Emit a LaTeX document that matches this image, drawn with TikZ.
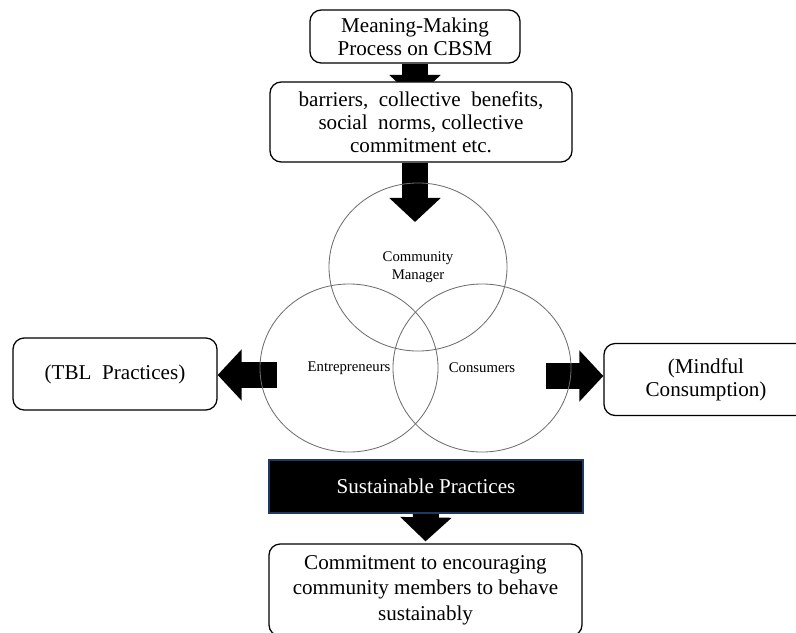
\documentclass[tikz,border=0pt]{standalone}
\usepackage{fontspec}
\setmainfont{Liberation Serif}
\usepackage{xcolor}
\usetikzlibrary{arrows.meta,positioning,shapes.geometric}
\definecolor{ringc}{HTML}{6E6E6E}
\definecolor{navyc}{HTML}{1F3864}
\pgfdeclarelayer{background}
\pgfsetlayers{background,main}
\tikzset{
  defaultnode/.style={rectangle, rounded corners=8pt, draw=black, fill=white,
    line width=0.9pt, font=\fontsize{15}{16.5}\selectfont, align=center, inner sep=0pt},
  darknode/.style={defaultnode, rounded corners=0pt, draw=navyc, fill=black, text=white},
  ringnode/.style={ellipse, draw=ringc, line width=0.6pt, minimum width=4.45cm,
    minimum height=4.2cm, inner sep=0pt, font=\fontsize{10.5}{12.8}\selectfont, align=center},
  blockedge/.style={-{Triangle[length=0.6cm, width=1.25cm]}, draw=black, line width=0.65cm},
}

\begin{document}
\begin{tikzpicture}[x=0.025cm, y=-0.025cm]
  \useasboundingbox (0,0) rectangle (796,632);
  \clip (0,0) rectangle (796,632);
  \node[defaultnode, minimum width=5.25cm, minimum height=1.325cm] (mm) at (415,36.5) {Meaning-Making\\Process on CBSM};
  \node[defaultnode, minimum width=7.55cm, minimum height=2cm] (barr) at (421,122) {barriers,\ \ collective\ \ benefits,\\social\ \ norms, collective\\commitment etc.};
  \node[ringnode] (cm) at (418,267) {Community\\Manager};
  \node[ringnode] (ent) at (349,368) {Entrepreneurs};
  \node[ringnode] (con) at (482,368) {Consumers};
  \node[defaultnode, minimum width=5.1cm, minimum height=1.8cm] (tbl) at (115,374) {(TBL\ \ Practices)};
  \node[defaultnode, minimum width=5.1cm, minimum height=1.8cm] (mindful) at (706,379.5) {(Mindful\\Consumption)};
  \node[darknode, minimum width=7.85cm, minimum height=1.325cm] (sust) at (426,486.5) {Sustainable Practices};
  \node[defaultnode, minimum width=7.825cm, minimum height=2.3cm, font=\fontsize{15}{18}\selectfont] (commit) at (425.5,590) {Commitment to encouraging\\community members to behave\\sustainably};
  \coordinate (mmtip) at (415,99);
  \coordinate (cmtip) at (415,222);
  \coordinate (entstart) at (277,375);
  \coordinate (constart) at (546,376);
  \begin{pgfonlayer}{background}
    \draw[blockedge] (mm.south) -- (mmtip);
    \draw[blockedge] (barr.south -| cmtip) -- (cmtip);
    \draw[blockedge] (entstart) -- (entstart -| tbl.east);
    \draw[blockedge] (constart) -- (constart -| mindful.west);
    \draw[blockedge, shorten >=0.05cm] (sust.south) -- (commit.north);
  \end{pgfonlayer}
\end{tikzpicture}
\end{document}
